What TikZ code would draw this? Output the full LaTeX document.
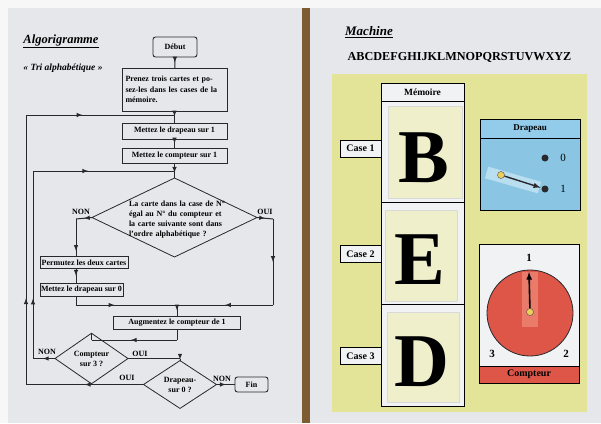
\documentclass[tikz,border=0pt]{standalone}
\usepackage{fontspec}
\setmainfont{Liberation Serif}
\usetikzlibrary{shapes.geometric,arrows,positioning,decorations.markings}

\tikzset{
  boite/.style={draw=ctrait,line width=0.9pt,fill=cfond,inner sep=1pt,outer sep=0pt,
    font=\bfseries\fontsize{8}{10.5}\selectfont},
  terminal/.style={boite,rounded corners=2.5pt},
  losange/.style={draw=ctrait,line width=0.8pt,shape=diamond,inner sep=0pt,outer sep=0pt},
  ligne/.style={draw=ctrait,line width=1pt},
  fleche/.style={ligne,postaction={decorate},
    decoration={markings,mark=at position #1 with {\arrow{latex}}}},
  fleche/.default=0.5,
  etiq/.style={font=\bfseries\fontsize{8}{10}\selectfont,inner sep=0pt},
  casebox/.style={draw=black,line width=1pt,fill=cblanc,minimum width=41,minimum height=17,
    inner sep=0pt,outer sep=0pt,font=\bfseries\fontsize{10}{12}\selectfont},
  cellule/.style={draw=black,line width=1pt,fill=cblanc,minimum width=83,inner sep=0pt,outer sep=0pt},
  carte/.style={fill=ccarte,draw=black!15,inner sep=0pt},
  lettre/.style={font=\bfseries\fontsize{76}{76}\selectfont,inner sep=0pt,anchor=base},
  chiffre/.style={font=\bfseries\fontsize{11}{12}\selectfont,inner sep=0pt},
}

\begin{document}
\begin{tikzpicture}[x=1pt,y=-1pt]
%
\useasboundingbox (0,0) rectangle (601,423);
%
\definecolor{cfond}{RGB}{229,231,235}
\definecolor{cblanc}{RGB}{241,242,243}
\definecolor{ctrait}{RGB}{40,40,45}
\definecolor{cbois}{RGB}{125,92,52}
\definecolor{cjaune}{RGB}{228,228,152}
\definecolor{ccarte}{RGB}{240,239,204}
\definecolor{cbleu}{RGB}{138,198,228}
\definecolor{cbleuclair}{RGB}{146,204,234}
\definecolor{clevier}{RGB}{184,222,240}
\definecolor{crouge}{RGB}{221,86,72}
\definecolor{crougeclair}{RGB}{234,122,106}
\definecolor{cor}{RGB}{236,206,92}
%
\fill[white!97!black] (0,0) rectangle (601,423);
\fill[cfond] (8,8) rectangle (302,423);
\fill[cbois] (302,8) rectangle (310,423);
\fill[cfond] (310,8) rectangle (601,423);
%
% Algorigramme
\node[inner sep=0pt,font=\bfseries\itshape\fontsize{12.5}{14}\selectfont] (titre) at (61,41) {\underline{Algorigramme}};
\node[inner sep=0pt,font=\bfseries\itshape\fontsize{9.5}{11}\selectfont] (tri) at (63,68) {«~Tri alphabétique~»};
%
\node[terminal,minimum width=44,minimum height=20] (deb) at (175,47) {Début};
\node[boite,minimum width=105,minimum height=43,text width=98,align=left] (prz) at (174.5,89.5)
  {Prenez trois cartes et po-\\sez-les dans les cases de la\\mémoire.};
\node[boite,minimum width=105,minimum height=16] (md1) at (174.5,131) {Mettez le drapeau sur 1};
\node[boite,minimum width=105,minimum height=15] (mc1) at (174.5,155.5) {Mettez le compteur sur 1};
\node[losange,minimum width=165,minimum height=79] (q1) at (174.5,217.5) {};
\node[etiq,text width=104,align=left,font=\bfseries\fontsize{8}{10}\selectfont] (q1t) at (181,220)
  {La carte dans la case de N°\\égal au N° du compteur et\\la carte suivante sont dans\\l'ordre alphabétique ?};
\node[boite,minimum width=88,minimum height=12] (perm) at (84,262.5) {Permutez les deux cartes};
\node[boite,minimum width=83,minimum height=13] (md0) at (81.5,289.5) {Mettez le drapeau sur 0};
\node[boite,minimum width=127,minimum height=13] (aug) at (177,322.5) {Augmentez le compteur de 1};
\node[losange,minimum width=73,minimum height=33,align=center,font=\bfseries\fontsize{8}{10}\selectfont] (q2) at (91.5,358.5) {Compteur\\sur 3 ?};
\node[losange,minimum width=73,minimum height=35,align=center,font=\bfseries\fontsize{8}{10}\selectfont] (q3) at (180,384.5) {Drapeau-\\sur 0 ?};
\node[terminal,minimum width=33,minimum height=15] (fin) at (251.5,384.5) {Fin};
%
\node[etiq] (non1) at (81,212) {NON};
\node[etiq] (oui1) at (265,212) {OUI};
\node[etiq] (non2) at (47,352) {NON};
\node[etiq] (oui2) at (140,354) {OUI};
\node[etiq] (oui3) at (127,378) {OUI};
\node[etiq] (non3) at (222,379) {NON};
%
\coordinate (j1) at (174.5,115);
\coordinate (j2) at (174.5,171);
\coordinate (o1) at (26,384.5);
\coordinate (o2) at (26,115);
\coordinate (i1) at (33,358.5);
\coordinate (i2) at (33,171);
\coordinate (n1) at (76,219);
\coordinate (m1) at (76,305);
\coordinate (m2) at (177,305);
\coordinate (p1) at (273,219);
\coordinate (p2) at (273,305);
\coordinate (a1) at (177,340);
\coordinate (a2) at (91.5,340);
\coordinate (c1) at (180,358.5);
%
\draw[fleche] (deb) -- (prz);
\draw[fleche=0.45] (prz) -- (md1);
\draw[fleche] (md1) -- (mc1);
\draw[fleche=0.65] (mc1) -- (q1);
\draw[fleche] (q1.west) -- (n1);
\draw[fleche=0.85] (n1) -- (n1 |- perm.north);
\draw[fleche] (perm.south -| n1) -- (n1 |- md0.north);
\draw[ligne] (md0.south -| n1) -- (m1);
\draw[fleche=0.38] (m1) -- (m2);
\draw[fleche] (q1.east) -- (p1);
\draw[fleche] (p1) -- (p2);
\draw[fleche] (p2) -- (m2);
\draw[fleche] (m2) -- (aug.north);
\draw[ligne] (aug.south) -- (a1);
\draw[fleche=0.54] (a1) -- (a2);
\draw[ligne] (a2) -- (q2.north);
\draw[fleche=0.55] (q2.west) -- (i1);
\draw[fleche=0.32] (i1) -- (i2);
\draw[fleche=0.39] (i2) -- (j2);
\draw[ligne] (q2.east) -- (c1);
\draw[fleche] (c1) -- (q3.north);
\draw[fleche] (q3.west) -- (o1);
\draw[fleche=0.32] (o1) -- (o2);
\draw[fleche=0.38] (o2) -- (j1);
\draw[fleche] (q3.east) -- (fin);
%
% Machine
\node[inner sep=0pt,font=\bfseries\itshape\fontsize{13}{15}\selectfont] (mach) at (369,32) {\underline{Machine}};
\node[inner sep=0pt,font=\bfseries\fontsize{12.2}{14}\selectfont] (alpha) at (459.5,57) {ABCDEFGHIJKLMNOPQRSTUVWXYZ};
\fill[cjaune] (332,74) rectangle (587,412);
%
\node[cellule,minimum height=18,font=\bfseries\fontsize{9.5}{11}\selectfont] (mem) at (422.5,92) {Mémoire};
\node[cellule,minimum height=101] (cel1) at (422.5,151.5) {};
\node[cellule,minimum height=102] (cel2) at (422.5,253) {};
\node[cellule,minimum height=102] (cel3) at (422.5,355) {};
\node[carte,minimum width=74,minimum height=92] (ca1) at (425,152) {};
\node[carte,minimum width=72,minimum height=91] (ca2) at (421,255.5) {};
\node[carte,minimum width=72,minimum height=90] (ca3) at (423,357) {};
\node[lettre] (lb) at (424,182) {B};
\node[lettre] (le) at (420,284) {E};
\node[lettre] (ld) at (422,386) {D};
\node[casebox] (lc1) at (360.5,148.5) {Case 1};
\node[casebox] (lc2) at (360.5,254) {Case 2};
\node[casebox] (lc3) at (360.5,356) {Case 3};
%
\node[draw=black,line width=0.9pt,fill=cbleuclair,minimum width=100,minimum height=19,inner sep=0pt,outer sep=0pt,
  font=\bfseries\fontsize{9}{11}\selectfont] (drh) at (530,128.5) {Drapeau};
\node[draw=black,line width=0.9pt,fill=cbleu,minimum width=100,minimum height=72,inner sep=0pt,outer sep=0pt,
  below=0pt of drh] (drb) {};
\node[circle,fill=ctrait,inner sep=0pt,minimum size=7] (d0) at (545,158) {};
\node[circle,fill=ctrait,inner sep=0pt,minimum size=7] (d1) at (545,189) {};
\node[chiffre,font=\fontsize{11}{12}\selectfont] (z0) at (563,158) {0};
\node[chiffre,font=\fontsize{11}{12}\selectfont] (z1) at (563,189) {1};
\node[fill=clevier,minimum width=55,minimum height=12,inner sep=0pt,rotate=-16] (lev) at (513,180) {};
\node[circle,fill=cor,draw=black!70,inner sep=0pt,minimum size=7] (piv) at (501,175) {};
\draw[-latex,line width=1.4pt,ctrait,shorten >=1pt] (piv) -- (d1);
%
\node[draw=black,line width=0.9pt,fill=cblanc,minimum width=100,minimum height=122,inner sep=0pt,outer sep=0pt] (cpb) at (529,305) {};
\node[draw=black,line width=0.9pt,fill=crouge,minimum width=100,minimum height=17,inner sep=0pt,outer sep=0pt,
  font=\bfseries\fontsize{10}{12}\selectfont,below=0pt of cpb] (cpt) {Compteur};
\node[circle,draw=ctrait,line width=0.8pt,fill=crouge,minimum size=86,inner sep=0pt] (cad) at (530,313) {};
\node[fill=crougeclair,minimum width=16,minimum height=55,inner sep=0pt] (aig) at (530,299.5) {};
\coordinate (pointe) at (529,272);
\node[circle,fill=cor,draw=black!70,inner sep=0pt,minimum size=7] (piv2) at (530,312) {};
\draw[-latex,line width=1.6pt,black] (piv2) -- (pointe);
\node[chiffre] (n1c) at (529,258) {1};
\node[chiffre] (n3c) at (492,354) {3};
\node[chiffre] (n2c) at (566,354) {2};
%
\end{tikzpicture}
\end{document}
